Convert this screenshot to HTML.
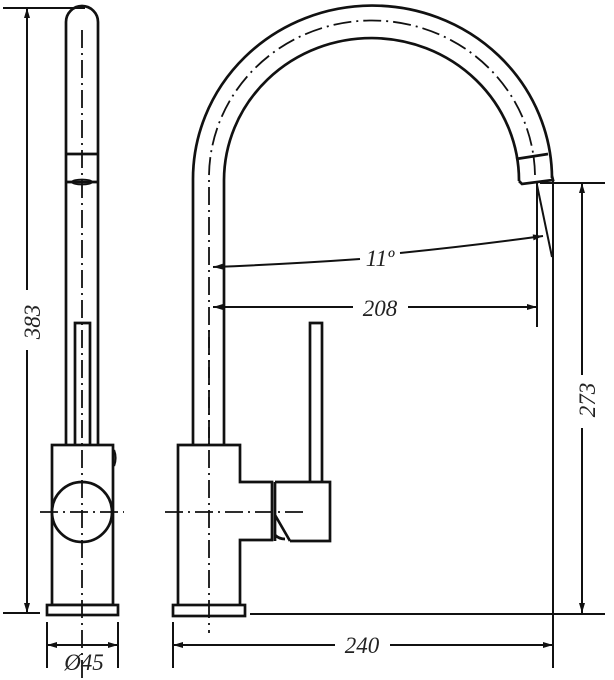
<!DOCTYPE html>
<html><head><meta charset="utf-8"><style>
html,body{margin:0;padding:0;background:#fff;}
svg{display:block;}
text{font-family:"Liberation Serif",serif;font-style:italic;fill:#222;}
</style></head><body>
<svg width="614" height="680" viewBox="0 0 614 680" xmlns="http://www.w3.org/2000/svg">
<defs>
<marker id="a" viewBox="0 0 10 6" refX="10" refY="3" markerWidth="11" markerHeight="6" orient="auto-start-reverse" markerUnits="userSpaceOnUse">
<path d="M0,0 L10,3 L0,6 z" fill="#111"/></marker>
</defs>
<g stroke="#111" fill="none" stroke-width="2.7">
<!-- LEFT VIEW -->
<path d="M66,445 V22 A16,16 0 0 1 98,22 V445"/>
<path d="M66,154 H98 M66,182 H98"/>
<ellipse cx="82" cy="182" rx="10" ry="2.5" stroke-width="1.8"/>
<path d="M75,445 V323 H90 V445"/>
<rect x="52" y="445" width="61" height="160"/>
<path d="M114,450 q3,8 0,16" stroke-width="2.2"/>
<circle cx="82" cy="512" r="30" fill="#fff"/>
<rect x="47" y="605" width="71" height="10" fill="#fff"/>
<!-- RIGHT VIEW -->
<path d="M193,445 V180 A179,173 0 0 1 552,178"/>
<path d="M224,445 V180 A147,142 0 0 1 519,181"/>
<path d="M519,181 L522,184 L553,180 L552,176"/>
<path d="M516,159 L548,154"/>
<path d="M178,605 V445 H240 V482 H272 V540 H240 V605"/>
<rect x="173" y="605" width="72" height="11" fill="#fff"/>
<path d="M275,482 H330 V541 H290 M275,482 V541 M275,515 L290,541 M275,535 q4,4 10,4"/>
<path d="M310,482 V323 H322 V482"/>
<path d="M537,185 L552,257" stroke-width="2"/>
</g>
<g stroke="#111" fill="none" stroke-width="1.8" stroke-dasharray="18,5,2,5">
<path d="M82,30 V700"/>
<path d="M40,512 H124"/>
<path d="M209,330 V633"/>
<path d="M209,445 V180 A163,157 0 0 1 535,175"/>
<path d="M165,512 H308"/>
</g>
<g stroke="#111" fill="none" stroke-width="2">
<path d="M3,8 H85 M3,613 H40"/>
<path d="M27,290 V8" marker-end="url(#a)"/>
<path d="M27,350 V613" marker-end="url(#a)"/>
<path d="M47,622 V668 M118,622 V668"/>
<path d="M47,645 H118" marker-start="url(#a)" marker-end="url(#a)"/>
<path d="M173,622 V668 M553,180 V668"/>
<path d="M173,645 H335" marker-start="url(#a)"/>
<path d="M390,645 H553" marker-end="url(#a)"/>
<path d="M250,614 H605 M540,183 H605"/>
<path d="M582,375 V183" marker-end="url(#a)"/>
<path d="M582,428 V613" marker-end="url(#a)"/>
<path d="M537,183 V327"/>
<path d="M353,307 H213" marker-end="url(#a)"/>
<path d="M408,307 H537" marker-end="url(#a)"/>
<path d="M360,259 Q290,264 213,267" marker-end="url(#a)"/>
<path d="M400,253 Q470,246 543,236" marker-end="url(#a)"/>
</g>
<text x="0" y="0" font-size="23" transform="translate(40,322) rotate(-90)" text-anchor="middle">383</text>
<text x="0" y="0" font-size="23" transform="translate(595,400) rotate(-90)" text-anchor="middle">273</text>
<text x="380" y="316" font-size="23" text-anchor="middle">208</text>
<text x="380" y="266" font-size="23" text-anchor="middle">11º</text>
<text x="362" y="653" font-size="23" text-anchor="middle">240</text>
<text x="84" y="670" font-size="23" text-anchor="middle">Ø45</text>
</svg>
</body></html>
